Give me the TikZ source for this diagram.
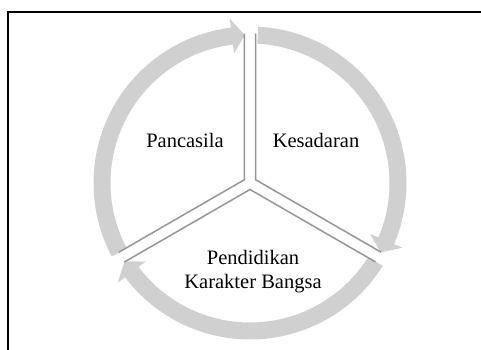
\documentclass[tikz,border=0pt]{standalone}
\usepackage{fontspec}
\setmainfont{Liberation Serif}
\begin{document}
\begin{tikzpicture}[x=1pt,y=1pt,
  ringarrow/.style={fill={rgb,255:red,208;green,208;blue,208}, draw=none},
  divider/.style={draw={rgb,255:red,150;green,150;blue,150}, line width=1.5pt},
  frame/.style={draw=black, line width=1.5pt},
  label/.style={font=\fontsize{20.5}{24}\selectfont, align=center, inner sep=0pt}]
\useasboundingbox (0,0) rectangle (481,350);
\fill[white] (0,0) rectangle (481,350);
\draw[frame] (8,-2) -- (8,338) -- (483,338);
\begin{scope}[shift={(250,167)}]
  % arrows (clockwise), R = centre radius, w = half width, h = head half width
  \def\R{148}\def\w{8.5}\def\h{17.5}
  \foreach \s/\e in {208/92, 87/-28, -32/-148}{
    \pgfmathsetmacro{\b}{\e+5}
    \fill[ringarrow] (\s:\R+\w) arc[start angle=\s, end angle=\b, radius=\R+\w]
      -- (\b:\R+\h) -- (\e:\R) -- (\b:\R-\h) -- (\b:\R-\w)
      arc[start angle=\b, end angle=\s, radius=\R-\w] -- cycle;
  }
  % sector edges
  \coordinate (a1) at (150:6.5);
  \coordinate (a2) at (30:6.5);
  \coordinate (a3) at (270:6.5);
  \draw[divider] (a1) ++(90:146) -- (a1) -- ++(210:145);
  \draw[divider] (a2) ++(90:146) -- (a2) -- ++(-30:145);
  \draw[divider] (a3) ++(210:145) -- (a3) -- ++(-30:145);
\end{scope}
\node[label] (pancasila) at (185,210) {Pancasila};
\node[label] (kesadaran) at (316,210) {Kesadaran};
\node[label] (pkb) at (253,78) {Pendidikan\\Karakter Bangsa};
\end{tikzpicture}
\end{document}
